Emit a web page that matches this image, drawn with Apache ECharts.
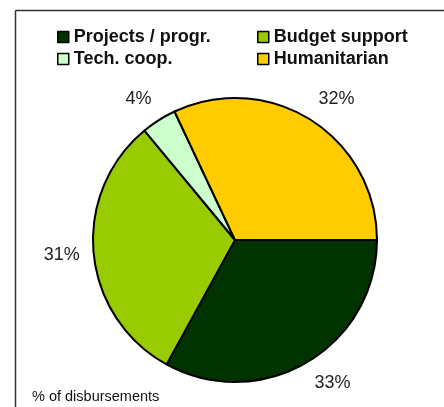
<!DOCTYPE html>
<html>
<head>
<meta charset="utf-8">
<script src="https://cdn.jsdelivr.net/npm/echarts@6/dist/echarts.min.js"></script>
<style>
  html, body { margin: 0; padding: 0; background: #fff; }
  #chart { width: 444px; height: 407px; }
</style>
</head>
<body>
<div id="chart"></div>
<script>
// disbursement shares
const categories = ['Projects / progr.', 'Budget support', 'Tech. coop.', 'Humanitarian'];
const shares = [33, 31, 4, 32];
const colors = ['#003300', '#99cc00', '#ccffcc', '#ffcc00'];
const footnote = '% of disbursements';

const FONT = '"Liberation Sans", Arial, sans-serif';
const myChart = echarts.init(document.getElementById('chart'), null, {renderer: 'canvas'});

// legend laid out as 2x2 grid, one legend per cell
const legendPos = [
  {left: 57, top: 28},
  {left: 257, top: 28},
  {left: 57, top: 50},
  {left: 257, top: 50}
];

const pieData = categories.map((name, i) => ({
  name: name,
  value: shares[i],
  itemStyle: {color: colors[i]}
}));

// mid angle of each slice (clockwise from 3 o'clock), used to anchor labels like Excel does
const total = shares.reduce((a, b) => a + b, 0);
const midAngles = [];
let acc = 0;
shares.forEach(v => {
  midAngles.push((acc + v / 2) / total * Math.PI * 2);
  acc += v;
});

const option = {
  animation: false,
  graphic: [
    // frame: only top and left edges visible
    {type: 'line', shape: {x1: 15.5, y1: 10.5, x2: 444, y2: 10.5}, style: {stroke: '#333', lineWidth: 1.5}},
    {type: 'line', shape: {x1: 15.5, y1: 10.5, x2: 15.5, y2: 407}, style: {stroke: '#333', lineWidth: 1.5}},
    {
      type: 'text', left: 32, top: 389,
      style: {text: footnote, fill: '#111', font: '14.5px ' + FONT}
    }
  ],
  legend: categories.map((name, i) => ({
    left: legendPos[i].left,
    top: legendPos[i].top,
    data: [name],
    icon: 'rect',
    itemWidth: 11,
    itemHeight: 11,
    padding: 0,
    selectedMode: false,
    itemStyle: {borderColor: '#000', borderWidth: 1.5},
    textStyle: {
      fontFamily: FONT,
      fontWeight: 'bold',
      fontSize: 18,
      color: '#111'
    }
  })),
  series: [
    {
      type: 'pie',
      center: [235, 240],
      radius: 142,
      startAngle: 0,
      clockwise: true,
      data: pieData,
      itemStyle: {borderColor: '#000', borderWidth: 2},
      label: {show: false},
      labelLine: {show: false},
      emphasis: {disabled: true}
    },
    {
      // invisible ring that only carries the percent labels
      type: 'pie',
      center: [235, 240],
      radius: [142, 164],
      startAngle: 0,
      clockwise: true,
      silent: true,
      data: pieData.map(d => ({name: d.name, value: d.value})),
      itemStyle: {color: 'rgba(0,0,0,0)', borderWidth: 0},
      label: {
        show: true,
        position: 'inside',
        formatter: '{c}%',
        fontFamily: FONT,
        fontSize: 18,
        color: '#222'
      },
      labelLayout: function (params) {
        // push the label box outward from its anchor point
        const a = midAngles[params.dataIndex];
        const c = Math.cos(a), s = Math.sin(a);
        return {
          align: Math.abs(c) < 0.3 ? 'center' : (c > 0 ? 'left' : 'right'),
          verticalAlign: Math.abs(s) < 0.3 ? 'middle' : (s > 0 ? 'top' : 'bottom')
        };
      },
      labelLine: {show: false},
      emphasis: {disabled: true}
    }
  ]
};

myChart.setOption(option);
</script>
</body>
</html>
